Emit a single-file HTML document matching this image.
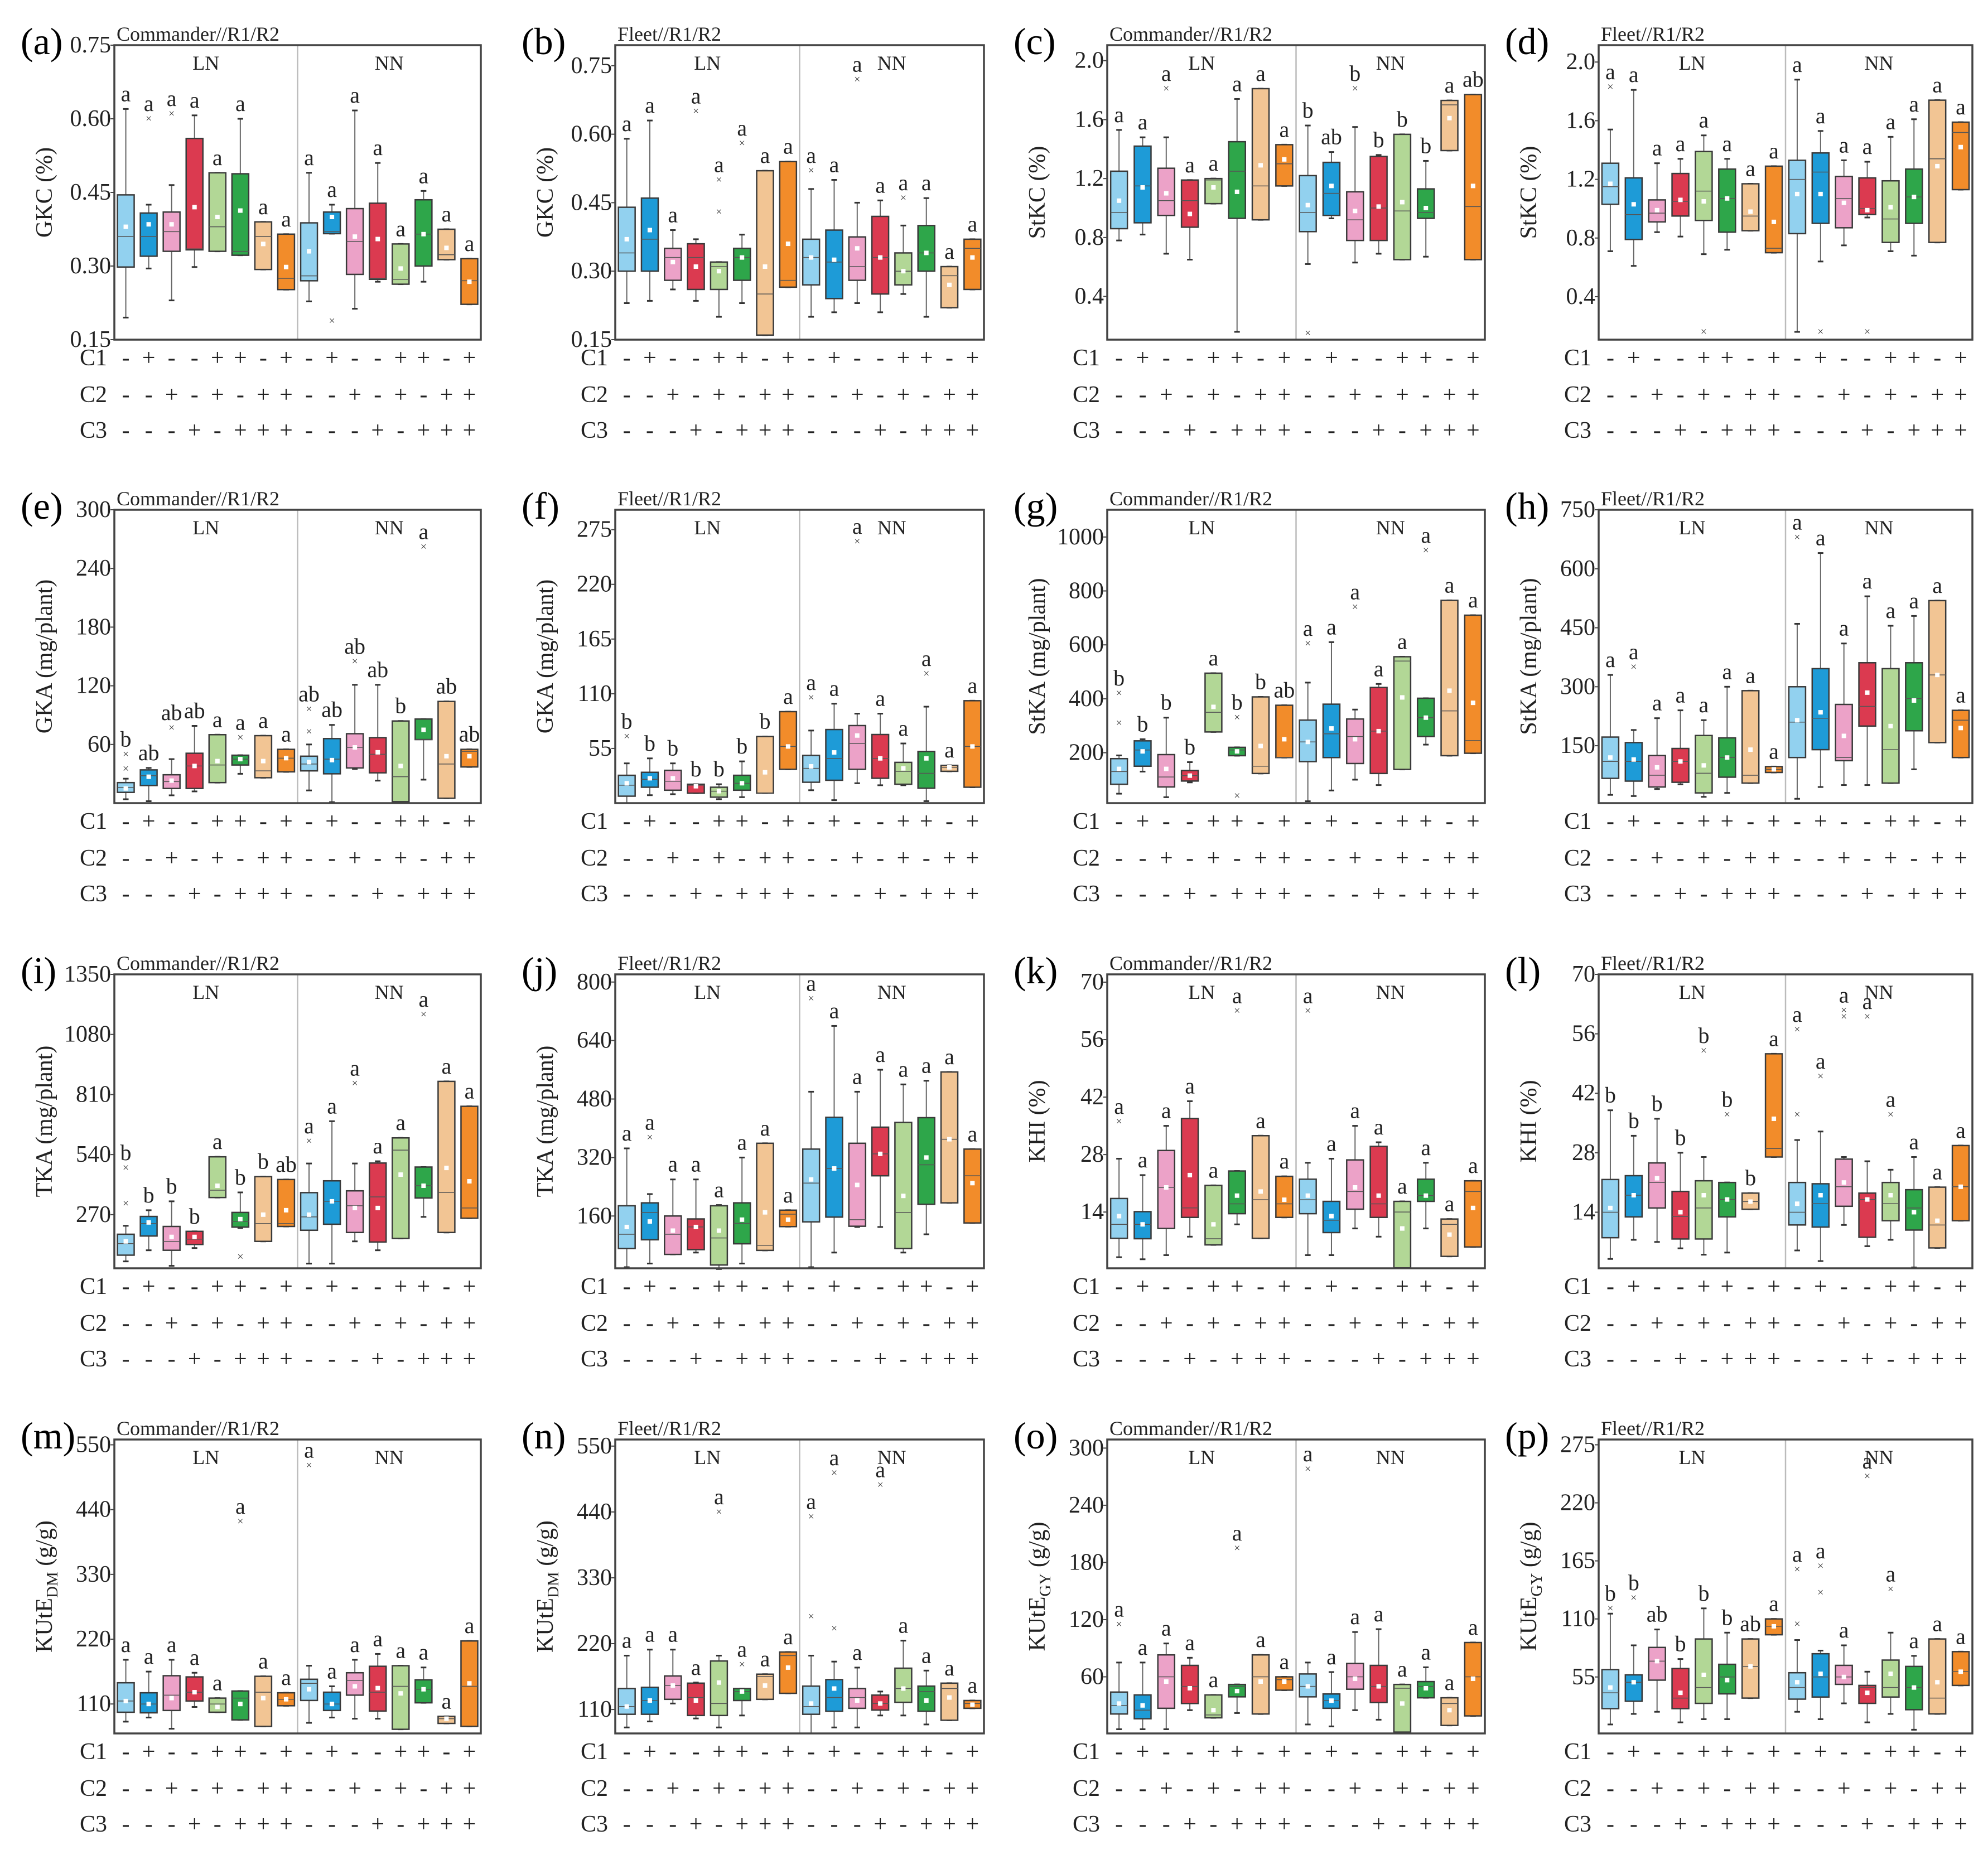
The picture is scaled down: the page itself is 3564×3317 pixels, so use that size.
<!DOCTYPE html>
<html><head><meta charset="utf-8">
<style>
html,body{margin:0;padding:0;background:#fff;}
svg{display:block;font-family:"Liberation Serif",serif;}
svg text{font-family:"Liberation Serif",serif;}
</style></head>
<body>
<svg id="fig" width="3564" height="3317" viewBox="0 0 3564 3317" font-family="Liberation Serif, serif" xmlns="http://www.w3.org/2000/svg"></svg>
<script>
// ---------- shared category data ----------
const C1 = ['-','+','-','-','+','+','-','+','-','+','-','-','+','+','-','+'];
const C2 = ['-','-','+','-','+','-','+','+','-','-','+','-','+','-','+','+'];
const C3 = ['-','-','-','+','-','+','+','+','-','-','-','+','-','+','+','+'];
const boxColors = ['#92d1ef','#1e9bd7','#eca2c8','#db3a50','#b2d796','#2ea64a','#f2c594','#f28c2a'];

// ---------- panel (a) GKC Commander ----------
const a_lo  =[0.195,0.295,0.23,0.298,0.33,0.322,0.293,0.252,0.228,0.366,0.213,0.268,0.263,0.268,0.313,0.222];
const a_q1  =[0.298,0.32,0.33,0.333,0.33,0.322,0.293,0.252,0.27,0.366,0.283,0.273,0.263,0.30,0.313,0.222];
const a_med =[0.36,0.36,0.37,0.335,0.38,0.33,0.36,0.275,0.28,0.37,0.35,0.275,0.273,0.365,0.323,0.27];
const a_q3  =[0.445,0.408,0.41,0.56,0.49,0.488,0.39,0.365,0.388,0.41,0.417,0.428,0.345,0.435,0.375,0.315];
const a_hi  =[0.62,0.425,0.465,0.607,0.49,0.60,0.39,0.365,0.49,0.425,0.617,0.51,0.345,0.453,0.375,0.315];
const a_mean=[0.38,0.385,0.385,0.42,0.40,0.413,0.345,0.298,0.33,0.40,0.36,0.355,0.295,0.365,0.337,0.268];
const a_sig =['a','a','a','a','a','a','a','a','a','a','a','a','a','a','a','a'];
const a_out =[[1,0.60],[2,0.61],[9,0.188]];

// ---------- panel (b) GKC Fleet ----------
const b_lo  =[0.23,0.235,0.26,0.235,0.20,0.23,0.16,0.265,0.20,0.21,0.23,0.21,0.25,0.20,0.22,0.26];
const b_q1  =[0.30,0.30,0.28,0.26,0.26,0.28,0.16,0.265,0.27,0.24,0.28,0.25,0.27,0.30,0.22,0.26];
const b_med =[0.34,0.37,0.33,0.33,0.31,0.33,0.25,0.28,0.33,0.32,0.31,0.33,0.30,0.34,0.29,0.35];
const b_q3  =[0.44,0.46,0.35,0.36,0.32,0.35,0.52,0.54,0.37,0.39,0.375,0.42,0.34,0.40,0.31,0.37];
const b_hi  =[0.59,0.63,0.39,0.37,0.32,0.38,0.52,0.54,0.48,0.50,0.45,0.455,0.40,0.46,0.31,0.37];
const b_mean=[0.37,0.39,0.32,0.31,0.30,0.33,0.31,0.36,0.33,0.325,0.35,0.33,0.30,0.34,0.27,0.33];
const b_sig =['a','a','a','a','a','a','a','a','a','a','a','a','a','a','a','a'];
const b_out =[[3,0.65],[4,0.43],[4,0.50],[5,0.58],[8,0.52],[10,0.72],[12,0.46]];

// ---------- panel (c) StKC Commander ----------
const c_lo  =[0.78,0.82,0.69,0.65,1.03,0.16,0.92,1.15,0.62,0.93,0.63,0.69,0.65,0.67,1.39,0.65];
const c_q1  =[0.86,0.90,0.95,0.87,1.03,0.93,0.92,1.15,0.84,0.95,0.78,0.78,0.65,0.93,1.39,0.65];
const c_med =[0.97,1.15,1.05,1.05,1.19,1.25,1.15,1.30,0.97,1.10,0.92,1.00,0.98,0.97,1.70,1.01];
const c_q3  =[1.25,1.42,1.27,1.19,1.20,1.45,1.81,1.43,1.22,1.31,1.11,1.35,1.50,1.13,1.73,1.77];
const c_hi  =[1.53,1.48,1.48,1.19,1.20,1.74,1.81,1.43,1.56,1.38,1.55,1.36,1.50,1.32,1.73,1.77];
const c_mean=[1.05,1.14,1.10,0.96,1.14,1.11,1.29,1.33,1.02,1.15,0.98,1.01,1.04,1.00,1.61,1.15];
const c_sig =['a','a','a','a','a','a','a','a','b','ab','b','b','b','b','a','ab'];
const c_out =[[2,1.81],[8,0.15],[10,1.81]];

// ---------- panel (d) StKC Fleet ----------
const d_lo  =[0.71,0.61,0.84,0.81,0.69,0.72,0.85,0.70,0.16,0.64,0.75,0.94,0.71,0.68,0.77,1.13];
const d_q1  =[1.03,0.79,0.91,0.95,0.92,0.84,0.85,0.70,0.83,0.90,0.87,0.96,0.77,0.90,0.77,1.13];
const d_med =[1.15,0.96,0.97,1.05,1.12,1.07,0.95,0.73,1.20,1.25,1.07,1.00,0.93,1.08,1.34,1.52];
const d_q3  =[1.31,1.21,1.06,1.24,1.39,1.27,1.17,1.29,1.33,1.38,1.22,1.21,1.19,1.27,1.74,1.59];
const d_hi  =[1.54,1.81,1.31,1.34,1.50,1.34,1.17,1.29,1.88,1.53,1.33,1.32,1.49,1.61,1.74,1.59];
const d_mean=[1.17,1.03,0.99,1.06,1.05,1.07,0.98,0.91,1.10,1.10,1.04,0.99,1.01,1.08,1.29,1.42];
const d_sig =['a','a','a','a','a','a','a','a','a','a','a','a','a','a','a','a'];
const d_out =[[0,1.83],[4,0.16],[9,0.16],[11,0.16]];

// ---------- panel (e) GKA Commander ----------
const e_lo  =[4,2,8,12,21,30,26,32,13,1,35,23,1.5,24,5,37];
const e_q1  =[11,18,15,15,21,39,26,32,33,30,36,31,1.5,65,5,37];
const e_med =[16,28,22,38,39,45,33,46,40,45,57,50,27,65,40,53];
const e_q3  =[21,34,29,51,70,49,69,55,48,66,71,67,84,86,104,55];
const e_hi  =[25,36,45,79,70,49,69,55,60,80,121,121,84,86,104,55];
const e_mean=[15,27,23,38,43,45,43,46,42,44,57,52,38,75,48,48];
const e_sig =['b','ab','ab','ab','a','a','a','a','ab','ab','ab','ab','b','a','ab','ab'];
const e_out =[[0,35],[0,50],[2,77],[5,67],[8,73],[8,96],[10,145],[13,262]];

// ---------- panel (f) GKA Fleet ----------
const f_lo  =[0,8,9,10,4,6,10,34,13,3,20,18,18,2,32,16];
const f_q1  =[7,16,13,10,6,13,10,34,21,23,34,25,19,15,32,16];
const f_med =[18,24,22,18,12,20,10,57,35,45,60,45,32,30,36,57];
const f_q3  =[28,31,33,19,16,28,67,92,48,74,78,69,41,52,38,103];
const f_hi  =[40,45,40,19,19,42,67,92,73,100,90,90,60,97,38,103];
const f_mean=[20,25,25,17,12,20,31,57,37,51,68,45,35,45,36,57];
const f_sig =['b','b','b','b','b','b','b','a','a','a','a','a','a','a','a','a'];
const f_out =[[0,67],[8,106],[10,263],[13,130]];

// ---------- panel (g) StKA Commander ----------
const g_lo  =[48,130,35,90,277,189,123,182,20,60,100,80,138,230,189,198];
const g_q1  =[83,150,73,95,277,189,123,182,167,182,160,123,138,260,189,198];
const g_med =[130,210,110,115,350,210,150,182,240,270,260,280,540,330,355,245];
const g_q3  =[178,244,193,134,495,220,407,376,321,380,325,442,556,402,765,710];
const g_hi  =[190,250,330,165,495,220,407,376,460,610,360,455,556,402,765,710];
const g_mean=[140,205,140,115,370,205,225,250,240,290,250,280,405,330,430,385];
const g_sig =['b','b','b','b','a','b','b','ab','a','a','a','a','a','a','a','a'];
const g_out =[[0,310],[0,420],[5,330],[5,40],[8,605],[10,740],[13,950]];

// ---------- panel (h) StKA Fleet ----------
const h_lo  =[25,22,40,52,20,30,55,82,15,45,50,50,55,90,158,120];
const h_q1  =[67,60,45,57,30,70,55,82,120,140,112,200,55,188,158,120];
const h_med =[110,110,75,110,80,120,75,90,210,220,120,250,140,270,330,215];
const h_q3  =[172,158,125,143,176,170,290,97,300,346,255,361,346,361,519,240];
const h_hi  =[330,190,220,240,215,300,290,97,460,640,410,530,455,480,519,240];
const h_mean=[120,115,95,110,100,120,140,90,215,235,175,285,200,265,330,195];
const h_sig =['a','a','a','a','a','a','a','a','a','a','a','a','a','a','a','a'];
const h_out =[[1,350],[8,680]];

// ---------- panel (i) TKA Commander ----------
const i_lo  =[60,110,40,120,347,210,150,217,50,50,150,110,163,260,190,254];
const i_q1  =[88,174,110,136,347,214,150,217,200,227,190,147,163,345,190,254];
const i_med =[140,230,150,160,380,240,230,230,260,330,310,350,560,400,370,300];
const i_q3  =[182,262,217,195,530,280,441,428,369,422,377,502,615,484,869,757];
const i_hi  =[220,290,330,195,530,370,441,428,500,690,500,510,615,484,869,757];
const i_mean=[150,235,170,170,400,250,270,290,270,330,300,300,450,400,480,420];
const i_sig =['b','b','b','b','a','b','b','ab','a','a','a','a','a','a','a','a'];
const i_out =[[0,320],[0,480],[5,80],[8,600],[10,860],[13,1170]];

// ---------- panel (j) TKA Fleet ----------
const j_lo  =[20,30,55,60,15,30,66,131,20,60,130,130,60,110,196,141];
const j_q1  =[71,95,55,68,26,84,66,131,144,157,132,270,71,192,196,141];
const j_med =[110,170,110,130,100,140,80,165,250,290,150,330,170,300,370,270];
const j_q3  =[188,196,160,152,188,196,359,176,343,430,359,403,416,429,554,343];
const j_hi  =[345,220,260,260,190,320,359,176,500,680,500,560,520,530,554,343];
const j_mean=[130,145,120,130,120,150,170,150,260,290,245,330,215,320,370,250];
const j_sig =['a','a','a','a','a','a','a','a','a','a','a','a','a','a','a','a'];
const j_out =[[1,375],[8,755]];

// ---------- panel (k) KHI Commander ----------
const k_lo  =[3,2.5,3.5,8,6,11,7.6,12.7,3.5,3.5,10,8,0.4,10,3.2,5.5];
const k_q1  =[7.6,7.5,10,12.7,6,13.6,7.6,12.7,13.6,9,14.7,12.7,0.4,16.6,3.2,5.5];
const k_med =[11,11,20,15,7.5,16,17,16,17,12,19,16,14,18,11,19];
const k_q3  =[17.3,14.1,29,36.8,20.5,24,32.6,22.7,22,16.6,26.7,30,16.6,22,12.3,21.6];
const k_hi  =[27,23,35,41,20.5,24,32.6,22.7,26,27,35,31,16.6,26,12.3,21.6];
const k_mean=[13,11,20,23,11,18,19,17,18,13,20,18,10,18,8.5,15];
const k_sig =['a','a','a','a','a','a','a','a','a','a','a','a','a','a','a','a'];
const k_out =[[0,36],[5,63],[8,63]];

// ---------- panel (l) KHI Fleet ----------
const l_lo  =[3,7.5,7,5.5,4,4.5,14.7,27,5,2.5,11,6,7.5,1,5.6,12];
const l_q1  =[8,12.9,15,7.7,7.7,12.9,14.7,27,11,10.5,15.4,8.1,12,9.8,5.6,12];
const l_med =[14,18,21,13,15,17,16.5,29,14,16,20,17,16,15,11,20];
const l_q3  =[21.7,22.6,25.6,18.9,21.4,21,18.5,51.3,21,20.7,26.5,18.5,21,19.3,19.9,29.7];
const l_hi  =[38,32,36,28,27,21,18.5,51.3,31,33,27,26,24,27,19.9,29.7];
const l_mean=[15,18,22,14,18,17,16.5,36,16,18,21,17,18,14,12,20];
const l_sig =['b','b','b','b','b','b','b','a','a','a','a','a','a','a','a','a'];
const l_out =[[4,52],[5,37],[8,37],[8,57],[9,46],[10,60],[10,61.5],[11,60],[12,37]];

// ---------- panel (m) KUtE_DM Commander ----------
const m_lo  =[80,87,68,105,96,83,72,107,78,87,85,85,67,112,77,72];
const m_q1  =[96,95,99,115,96,83,72,107,116,99,125,98,67,112,77,72];
const m_med =[115,110,125,130,110,120,130,118,145,110,150,130,140,135,85,140];
const m_q3  =[146,129,158,156,120,132,157,129,152,130,163,174,175,151,89,217];
const m_hi  =[185,165,185,163,120,132,157,129,175,140,185,195,175,172,89,217];
const m_mean=[115,110,120,130,105,110,120,118,135,110,140,137,128,135,85,145];
const m_sig =['a','a','a','a','a','a','a','a','a','a','a','a','a','a','a','a'];
const m_out =[[5,420],[8,515]];

// ---------- panel (n) KUtE_DM Fleet ----------
const n_lo  =[80,90,120,95,80,100,127,137,70,80,80,100,100,85,92,112];
const n_q1  =[102,102,127,100,100,125,127,137,102,107,112,109,122,107,92,112];
const n_med =[115,125,150,130,120,140,165,200,115,130,130,120,145,140,145,120];
const n_q3  =[145,147,166,154,191,145,169,206,149,160,145,134,179,149,154,125];
const n_hi  =[200,210,210,155,200,145,169,206,200,190,180,140,225,175,154,125];
const n_mean=[115,125,150,125,155,140,150,180,120,145,125,120,145,125,130,118];
const n_sig =['a','a','a','a','a','a','a','a','a','a','a','a','a','a','a','a'];
const n_out =[[4,440],[5,185],[8,265],[8,432],[9,245],[9,505],[11,485]];

// ---------- panel (o) KUtE_GY Commander ----------
const o_lo  =[5,5,5,25,17,22,21,46,10,8,25,15,2,38,9,19];
const o_q1  =[21,16,27,32,17,39,21,46,39,27,47,33,2,38,9,19];
const o_med =[30,25,60,50,20,50,60,57,50,35,60,50,48,50,32,60];
const o_q3  =[44,41,83,72,41,52,83,60,63,42,74,72,52,55,38,96];
const o_hi  =[75,75,95,80,41,52,83,60,75,65,107,110,52,70,38,96];
const o_mean=[32,30,55,48,25,45,55,55,50,35,58,50,32,48,25,58];
const o_sig =['a','a','a','a','a','a','a','a','a','a','a','a','a','a','a','a'];
const o_out =[[0,115],[5,195],[8,278]];

// ---------- panel (p) KUtE_GY Fleet ----------
const p_lo  =[10,20,22,12,15,15,35,95,22,15,30,12,20,5,20,47];
const p_q1  =[25,32,52,25,30,39,35,95,34,36,48,30,36,24,20,47];
const p_med =[40,50,70,35,45,55,65,103,45,55,55,45,45,45,35,60];
const p_q3  =[62,57,83,63,91,67,91,110,59,77,66,47,71,65,91,79];
const p_hi  =[115,85,100,72,120,97,91,110,90,80,85,60,97,75,91,79];
const p_mean=[45,50,70,40,57,52,65,103,50,58,55,40,58,45,50,60];
const p_sig =['b','b','ab','b','b','b','ab','a','a','a','a','a','a','a','a','a'];
const p_out =[[0,120],[1,130],[8,105],[8,157],[9,135],[9,160],[11,245],[12,138]];

// ---------- layout / panel config ----------
const colL=[205,1103,1985,2866], colR=[862,1764,2662,3536];
const rowT=[81,914,1747,2581], rowB=[609,1440,2274,3108];
const panels=[
 {id:'a',title:'Commander//R1/R2',ylab:'GKC (%)',dom:[0.15,0.75],ticks:[0.15,0.30,0.45,0.60,0.75],dec:2,d:[a_lo,a_q1,a_med,a_q3,a_hi,a_mean,a_sig,a_out]},
 {id:'b',title:'Fleet//R1/R2',ylab:'GKC (%)',dom:[0.15,0.795],ticks:[0.15,0.30,0.45,0.60,0.75],dec:2,d:[b_lo,b_q1,b_med,b_q3,b_hi,b_mean,b_sig,b_out]},
 {id:'c',title:'Commander//R1/R2',ylab:'StKC (%)',dom:[0.107,2.105],ticks:[0.4,0.8,1.2,1.6,2.0],dec:1,d:[c_lo,c_q1,c_med,c_q3,c_hi,c_mean,c_sig,c_out]},
 {id:'d',title:'Fleet//R1/R2',ylab:'StKC (%)',dom:[0.107,2.115],ticks:[0.4,0.8,1.2,1.6,2.0],dec:1,d:[d_lo,d_q1,d_med,d_q3,d_hi,d_mean,d_sig,d_out]},
 {id:'e',title:'Commander//R1/R2',ylab:'GKA (mg/plant)',dom:[0,300],ticks:[60,120,180,240,300],dec:0,d:[e_lo,e_q1,e_med,e_q3,e_hi,e_mean,e_sig,e_out]},
 {id:'f',title:'Fleet//R1/R2',ylab:'GKA (mg/plant)',dom:[0,295],ticks:[55,110,165,220,275],dec:0,d:[f_lo,f_q1,f_med,f_q3,f_hi,f_mean,f_sig,f_out]},
 {id:'g',title:'Commander//R1/R2',ylab:'StKA (mg/plant)',dom:[13,1101],ticks:[200,400,600,800,1000],dec:0,d:[g_lo,g_q1,g_med,g_q3,g_hi,g_mean,g_sig,g_out]},
 {id:'h',title:'Fleet//R1/R2',ylab:'StKA (mg/plant)',dom:[4,750],ticks:[150,300,450,600,750],dec:0,d:[h_lo,h_q1,h_med,h_q3,h_hi,h_mean,h_sig,h_out]},
 {id:'i',title:'Commander//R1/R2',ylab:'TKA (mg/plant)',dom:[29,1350],ticks:[270,540,810,1080,1350],dec:0,d:[i_lo,i_q1,i_med,i_q3,i_hi,i_mean,i_sig,i_out]},
 {id:'j',title:'Fleet//R1/R2',ylab:'TKA (mg/plant)',dom:[17,821],ticks:[160,320,480,640,800],dec:0,d:[j_lo,j_q1,j_med,j_q3,j_hi,j_mean,j_sig,j_out]},
 {id:'k',title:'Commander//R1/R2',ylab:'KHI (%)',dom:[0.3,71.9],ticks:[14,28,42,56,70],dec:0,d:[k_lo,k_q1,k_med,k_q3,k_hi,k_mean,k_sig,k_out]},
 {id:'l',title:'Fleet//R1/R2',ylab:'KHI (%)',dom:[0.8,70],ticks:[14,28,42,56,70],dec:0,d:[l_lo,l_q1,l_med,l_q3,l_hi,l_mean,l_sig,l_out]},
 {id:'m',title:'Commander//R1/R2',ylab:'KUtE|DM| (g/g)',dom:[60,559],ticks:[110,220,330,440,550],dec:0,d:[m_lo,m_q1,m_med,m_q3,m_hi,m_mean,m_sig,m_out]},
 {id:'n',title:'Fleet//R1/R2',ylab:'KUtE|DM| (g/g)',dom:[70,561],ticks:[110,220,330,440,550],dec:0,d:[n_lo,n_q1,n_med,n_q3,n_hi,n_mean,n_sig,n_out]},
 {id:'o',title:'Commander//R1/R2',ylab:'KUtE|GY| (g/g)',dom:[0.6,309],ticks:[60,120,180,240,300],dec:0,d:[o_lo,o_q1,o_med,o_q3,o_hi,o_mean,o_sig,o_out]},
 {id:'p',title:'Fleet//R1/R2',ylab:'KUtE|GY| (g/g)',dom:[1.5,280],ticks:[55,110,165,220,275],dec:0,d:[p_lo,p_q1,p_med,p_q3,p_hi,p_mean,p_sig,p_out]}
];

const NS='http://www.w3.org/2000/svg';
const svg=document.getElementById('fig');
const FF='"Liberation Serif", serif';
function mk(tag,attrs,parent,txt){
  const e=document.createElementNS(NS,tag);
  for(const k in attrs) e.setAttribute(k,attrs[k]);
  if(tag==='text') e.setAttribute('font-family',FF);
  if(txt!==undefined) e.textContent=txt;
  (parent||svg).appendChild(e);
  return e;
}

panels.forEach((P,pi)=>{
  const col=pi%4,row=Math.floor(pi/4);
  const L=colL[col],R=colR[col],T=rowT[row],B=rowB[row];
  const g=mk('g',{});
  
  
  const y=v=>B-(v-P.dom[0])/(P.dom[1]-P.dom[0])*(B-T);
  const band=(R-L)/16;
  const xc=i=>L+(i+0.5)*band;

  const pl=mk('text',{x:L-168,y:T+16,'font-size':68},g,'('+P.id+')');
  
  
  const tt=mk('text',{x:L+4,y:T-8,'font-size':36,fill:'#222'},g,P.title);
  
  
  P.ticks.forEach(t=>{
    const ty=y(t);
    const tl=mk('line',{x1:L-7,x2:L,y1:ty,y2:ty,stroke:'#444','stroke-width':2},g);
    
    
    const lab=mk('text',{x:L-6,y:ty+13,'font-size':42,'text-anchor':'end',fill:'#222'},g,t.toFixed(P.dec));
    
    
  });
  const yt=mk('text',{transform:`translate(${L-112},${(T+B)/2}) rotate(-90)`,'font-size':42,'text-anchor':'middle',fill:'#222'},g);
  
  
  if(P.ylab.indexOf('|')>=0){
    const parts=P.ylab.split('|');
    mk('tspan',{},yt,parts[0]);
    mk('tspan',{'font-size':29,dy:10},yt,parts[1]);
    mk('tspan',{dy:-10},yt,parts[2]);
  } else yt.textContent=P.ylab;
  const dv=mk('line',{x1:(L+R)/2,x2:(L+R)/2,y1:T,y2:B,stroke:'#bbb','stroke-width':2.5},g);
  
  
  const ln=mk('text',{x:(L*3+R)/4,y:T+44,'font-size':36,'text-anchor':'middle',fill:'#222'},g,'LN');
  
  
  const nn=mk('text',{x:(L+R*3)/4,y:T+44,'font-size':36,'text-anchor':'middle',fill:'#222'},g,'NN');
  
  

  const [lo,q1,med,q3,hi,mean,sig,out]=P.d;
  const bw=30;
  for(let i=0;i<16;i++){
    const cx=xc(i);
    const bg=mk('g',{},g);
    
    
    mk('line',{x1:cx,x2:cx,y1:y(hi[i]),y2:y(lo[i]),stroke:'#666','stroke-width':2},bg);
    mk('line',{x1:cx-5,x2:cx+5,y1:y(hi[i]),y2:y(hi[i]),stroke:'#333','stroke-width':3},bg);
    mk('line',{x1:cx-5,x2:cx+5,y1:y(lo[i]),y2:y(lo[i]),stroke:'#333','stroke-width':3},bg);
    mk('rect',{x:cx-bw/2,y:y(q3[i]),width:bw,height:Math.max(2,y(q1[i])-y(q3[i])),fill:boxColors[i%8],stroke:'#3a3a3a','stroke-width':2.5},bg);
    mk('line',{x1:cx-bw/2,x2:cx+bw/2,y1:y(med[i]),y2:y(med[i]),stroke:'#555','stroke-width':1.5},bg);
    mk('rect',{x:cx-4,y:y(mean[i])-4,width:8,height:8,fill:'#fff'},bg);
    let top=hi[i];
    out.forEach(o=>{ if(o[0]===i && o[1]>top) top=o[1]; });
    const st=mk('text',{x:cx,y:y(top)-14,'font-size':40,'text-anchor':'middle',fill:'#222'},bg,sig[i]);
    
    
  }
  out.forEach(o=>{
    const ox=xc(o[0]),oy=y(o[1]);
    const om=mk('text',{x:ox,y:oy+6,'font-size':20,'text-anchor':'middle',fill:'#333'},g,'×');
    
    
  });
  const fr=mk('rect',{x:L,y:T,width:R-L,height:B-T,fill:'none',stroke:'#444','stroke-width':3.5},g);
  
  

  [['C1',C1,32],['C2',C2,98],['C3',C3,162]].forEach(([nm,arr,dy])=>{
    const rl=mk('text',{x:L-62,y:B+dy+14,'font-size':42,fill:'#222'},g,nm);
    
    
    arr.forEach((s,i)=>{
      const sm=mk('text',{x:xc(i),y:B+dy+14,'font-size':42,'text-anchor':'middle',fill:'#222'},g,s);
      
      
    });
  });
});
</script>
</body></html>
